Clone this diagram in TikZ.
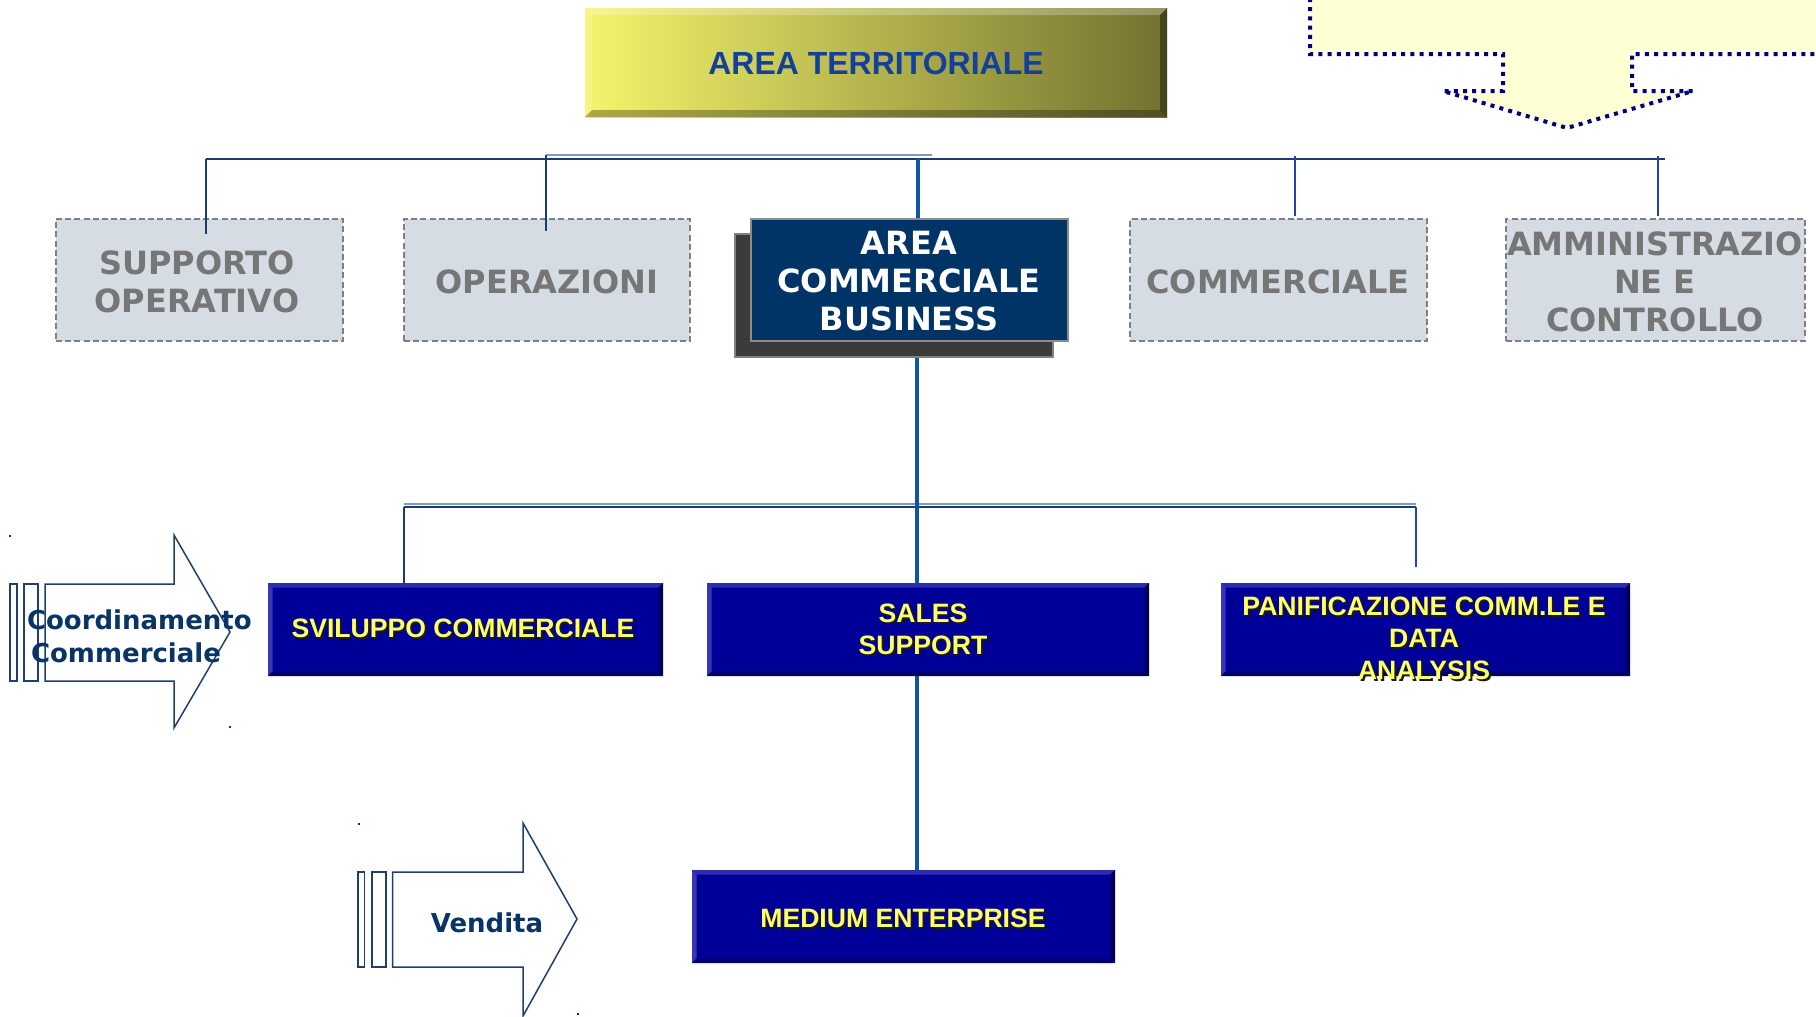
\documentclass[tikz,border=0pt]{standalone}
\usepackage{fontspec}
\newfontfamily\djv{DejaVu Sans}
\newfontfamily\lib{Liberation Sans}
\definecolor{bface}{HTML}{000099}
\definecolor{btop}{HTML}{2C2CB0}
\definecolor{bleft}{HTML}{3636B6}
\definecolor{bright}{HTML}{00005A}
\definecolor{bbot}{HTML}{00006C}
\definecolor{ytext}{HTML}{FFFF66}
\definecolor{gfill}{HTML}{D6DCE4}
\definecolor{gtext}{HTML}{767676}
\definecolor{gdash}{HTML}{808080}
\definecolor{busc}{HTML}{173E72}
\definecolor{busl}{HTML}{7F9CC0}
\definecolor{stubr}{HTML}{2444A4}
\definecolor{mainv}{HTML}{0D56A0}
\definecolor{callf}{HTML}{FFFFD5}
\definecolor{calld}{HTML}{000080}
\definecolor{arrc}{HTML}{1F3F6F}
\definecolor{arrt}{HTML}{0A3366}
\definecolor{ttext}{HTML}{12409A}
\definecolor{acbf}{HTML}{003366}
\definecolor{ylA}{HTML}{F4F46C}
\definecolor{ylB}{HTML}{727230}
\newcommand\mybevel[6]{%
  \fill[#3] (#1.north west) -- (#1.north east) -- ([shift={(-#2,#2)}]#1.north east) -- ([shift={(#2,#2)}]#1.north west) -- cycle;
  \fill[#4] (#1.north west) -- ([shift={(#2,#2)}]#1.north west) -- ([shift={(#2,-#2)}]#1.south west) -- (#1.south west) -- cycle;
  \fill[#5] (#1.north east) -- ([shift={(-#2,#2)}]#1.north east) -- ([shift={(-#2,-#2)}]#1.south east) -- (#1.south east) -- cycle;
  \fill[#6] (#1.south west) -- (#1.south east) -- ([shift={(-#2,-#2)}]#1.south east) -- ([shift={(#2,-#2)}]#1.south west) -- cycle;
}
\begin{document}
\begin{tikzpicture}[x=0.5pt,y=-0.5pt,
  every node/.style={inner sep=0pt,outer sep=0pt},
  graybox/.style={draw=gdash,line width=0.8pt,dash pattern=on 3pt off 1.6pt,fill=gfill},
  bluebox/.style={fill=bface},
  ytxt/.style={text=ytext,font=\lib\bfseries\fontsize{13.3}{16}\selectfont,align=center},
  ytsh/.style={text=black!90,font=\lib\bfseries\fontsize{13.3}{16}\selectfont,align=center},
  gtxt/.style={text=gtext,font=\djv\bfseries\fontsize{16}{19}\selectfont,align=center},
  wtxt/.style={text=white,font=\djv\bfseries\fontsize{16}{19}\selectfont,align=center},
  bus/.style={draw=busc,line width=1.1pt},
  busthin/.style={draw=busl,line width=0.7pt},
  stub/.style={draw=busc,line width=0.9pt},
  stubR/.style={draw=stubr,line width=0.9pt},
  mainline/.style={draw=mainv,line width=1.6pt},
  arr/.style={draw=arrc,line width=0.75pt,fill=white,line join=miter},
  arrtxt/.style={text=arrt,font=\djv\bfseries\fontsize{13}{16.5}\selectfont,align=left},
  dotline/.style={draw=calld,line width=2pt,dash pattern=on 2pt off 2.6pt}
]
\useasboundingbox (0,0) rectangle (1816,1017);
\clip (0,0) rectangle (1816,1017);
\fill[white] (0,0) rectangle (1816,1017);

% callout (top right)
\fill[callf] (1310,-10) -- (1310,54) -- (1503,54) -- (1503,91) -- (1443,91) -- (1567,128) -- (1693,91) -- (1632,91) -- (1632,54) -- (1830,54) -- (1830,-10) -- cycle;
\draw[dotline] (1310,-2) -- (1310,54) -- (1503,54) -- (1503,91) -- (1443,91) -- (1567,128) -- (1693,91) -- (1632,91) -- (1632,54) -- (1830,54);

% connectors (under boxes)
\coordinate (busL) at (206,159);
\coordinate (busR) at (1665,159);
\coordinate (busOa) at (546,155);
\coordinate (busOb) at (932,155);
\coordinate (mTop) at (918,159);
\coordinate (mTopEnd) at (918,220);
\coordinate (mBot) at (917,357);
\coordinate (mBotEnd) at (917,870);
\coordinate (mbL) at (404,507);
\coordinate (mbR) at (1416,507);
\coordinate (mbLa) at (404,504);
\coordinate (mbRa) at (1416,504);
\draw[bus] (busL) -- (busR);
\draw[busthin] (busOa) -- (busOb);
\draw[mainline] (mTop) -- (mTopEnd);
\draw[busthin] (mbLa) -- (mbRa);
\draw[bus] (mbL) -- (mbR);
\draw[mainline] (mBot) -- (mBotEnd);

% top box
\node[left color=ylA,right color=ylB,minimum width=291pt,minimum height=54.5pt] (at) at (876,62.5) {};
\mybevel{at}{7}{white,opacity=0.25}{white,opacity=0.18}{black,opacity=0.4}{black,opacity=0.3}
\node[text=ttext,font=\lib\bfseries\fontsize{16}{19}\selectfont] (atT) at (876,63) {AREA TERRITORIALE};

% gray boxes
\node[graybox,minimum width=143.5pt,minimum height=61pt] (sup) at (199.5,280) {};
\node[graybox,minimum width=143pt,minimum height=61pt] (ope) at (547,280) {};
\node[graybox,minimum width=148.5pt,minimum height=61pt] (com) at (1278.5,280) {};
\node[graybox,minimum width=149.5pt,minimum height=61pt] (amm) at (1655.5,280) {};

% area commerciale business
\node[fill=black!77,draw=gdash,line width=0.8pt,minimum width=159pt,minimum height=61.5pt] (acbS) at (894,295.5) {};
\node[fill=acbf,draw=black!45,line width=0.9pt,minimum width=158.5pt,minimum height=61pt] (acb) at (909.5,280) {};

% blue boxes
\node[bluebox,minimum width=197.5pt,minimum height=46.5pt] (svil) at (465.5,629.5) {};
\node[bluebox,minimum width=221pt,minimum height=46.5pt] (sales) at (928,629.5) {};
\node[bluebox,minimum width=204.5pt,minimum height=46.5pt] (panif) at (1425.5,629.5) {};
\node[bluebox,minimum width=211.5pt,minimum height=46.5pt] (med) at (903.5,916.5) {};
\mybevel{svil}{4.5}{btop}{bleft}{bright}{bbot}
\mybevel{sales}{4.5}{btop}{bleft}{bright}{bbot}
\mybevel{panif}{4.5}{btop}{bleft}{bright}{bbot}
\mybevel{med}{4.5}{btop}{bleft}{bright}{bbot}

% stubs
\coordinate (sSupA) at (206,159);
\coordinate (sSupB) at (206,234);
\coordinate (sOpeA) at (546,155);
\coordinate (sOpeB) at (546,231);
\coordinate (sComA) at (1295,156);
\coordinate (sComB) at (1295,216);
\coordinate (sAmmA) at (1658,156);
\coordinate (sAmmB) at (1658,216);
\coordinate (sSvA) at (404,507);
\coordinate (sSvB) at (404,583);
\coordinate (sPaA) at (1416,507);
\coordinate (sPaB) at (1416,567);
\draw[stub] (sSupA) -- (sSupB);
\draw[stub] (sOpeA) -- (sOpeB);
\draw[stubR] (sComA) -- (sComB);
\draw[stubR] (sAmmA) -- (sAmmB);
\draw[stub] (sSvA) -- (sSvB);
\draw[stubR] (sPaA) -- (sPaB);

% texts in gray boxes
\node[gtxt] (supT) at (197,281.5) {SUPPORTO\\OPERATIVO};
\node[gtxt] (opeT) at (547,282) {OPERAZIONI};
\node[gtxt] (comT) at (1278,282) {COMMERCIALE};
\node[gtxt] (ammT) at (1655,281.5) {AMMINISTRAZIO\\NE E\\CONTROLLO};
\node[wtxt] (acbT) at (909,281) {AREA\\COMMERCIALE\\BUSINESS};

% texts in blue boxes (shadow + text)
\node[ytsh] (svilS) at (465,630.5) {SVILUPPO COMMERCIALE};
\node[ytxt] (svilT) at (463,628.5) {SVILUPPO COMMERCIALE};
\node[ytsh] (salesS) at (925,631.5) {SALES\\SUPPORT};
\node[ytxt] (salesT) at (923,629.5) {SALES\\SUPPORT};
\node[ytsh] (panifS) at (1426,640.5) {PANIFICAZIONE COMM.LE E\\DATA\\ANALYSIS};
\node[ytxt] (panifT) at (1424,638.5) {PANIFICAZIONE COMM.LE E\\DATA\\ANALYSIS};
\node[ytsh] (medS) at (905,920) {MEDIUM ENTERPRISE};
\node[ytxt] (medT) at (903,918) {MEDIUM ENTERPRISE};

% left arrows
\draw[arr] (10,584) rectangle (17,681);
\draw[arr] (24,584) rectangle (38,681);
\draw[arr] (45,584) -- (174,584) -- (174,535) -- (230,632) -- (174,728) -- (174,681) -- (45,681) -- cycle;
\node[arrtxt,anchor=west] (coordT) at (27,636) {Coordinamento\\\hspace*{2pt}Commerciale};
\draw[arr] (358,872) rectangle (364.5,967);
\draw[arr] (372,872) rectangle (386,967);
\draw[arr] (392.5,872) -- (523,872) -- (523,823) -- (577,919) -- (523,1016) -- (523,967) -- (392.5,967) -- cycle;
\node[arrtxt] (vendT) at (487,923) {Vendita};

% tiny corner marks
\fill[arrt] (9,535) rectangle (11,537);
\fill[arrt] (229,726) rectangle (231,728);
\fill[arrt] (358,823) rectangle (360,825);
\fill[arrt] (577,1013) rectangle (579,1015);
\end{tikzpicture}
\end{document}
